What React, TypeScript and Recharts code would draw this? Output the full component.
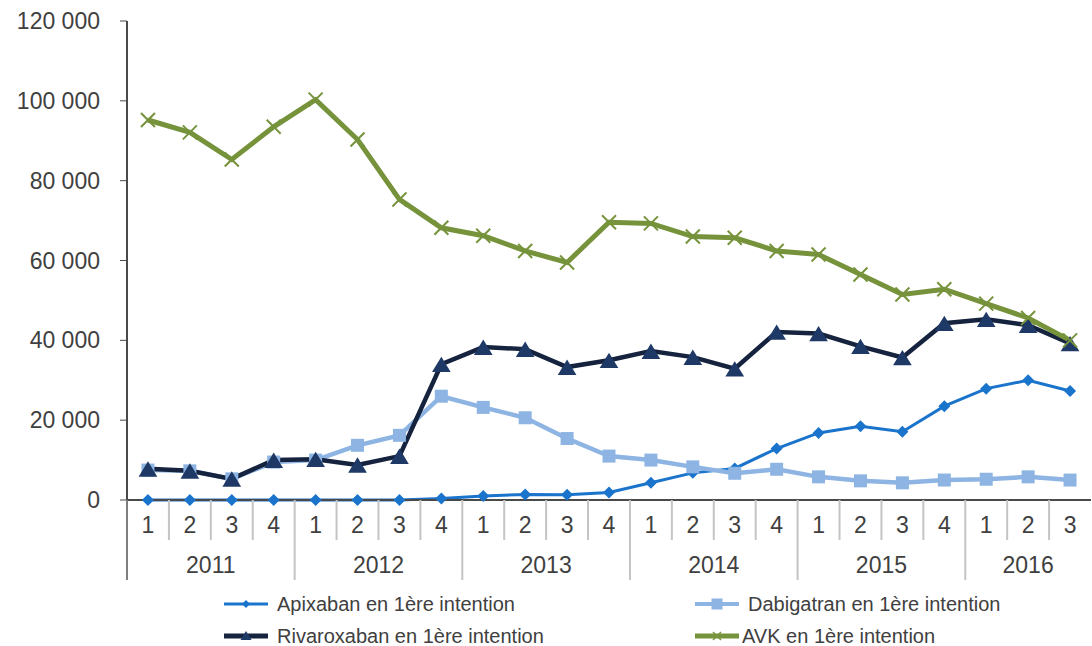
import React from 'react';
import { LineChart, Line, XAxis, YAxis, Legend } from 'recharts';

// ---------- data ----------
const periodYears = [
  '2011', '2011', '2011', '2011',
  '2012', '2012', '2012', '2012',
  '2013', '2013', '2013', '2013',
  '2014', '2014', '2014', '2014',
  '2015', '2015', '2015', '2015',
  '2016', '2016', '2016',
];
const periodQuarters = [
  '1', '2', '3', '4',
  '1', '2', '3', '4',
  '1', '2', '3', '4',
  '1', '2', '3', '4',
  '1', '2', '3', '4',
  '1', '2', '3',
];
const apixaban = [
  0, 0, 0, 0,
  0, 0, 0, 400,
  1000, 1400, 1300, 1900,
  4300, 6800, 7900, 12900,
  16800, 18500, 17100, 23500,
  27900, 30000, 27300,
];
const dabigatran = [
  7500, 7300, 5300, 9500,
  10000, 13700, 16200, 26000,
  23200, 20600, 15400, 11000,
  10000, 8300, 6700, 7700,
  5800, 4800, 4300, 5000,
  5200, 5800, 5000,
];
const rivaroxaban = [
  7800, 7300, 5300, 10000,
  10200, 8800, 11000, 34000,
  38300, 37800, 33300, 35000,
  37300, 35800, 32900, 42100,
  41700, 38500, 35700, 44300,
  45300, 43800, 39200,
];
const avk = [
  95200, 92100, 85300, 93500,
  100300, 90300, 75300, 68200,
  66200, 62400, 59500, 69600,
  69300, 66000, 65700, 62400,
  61500, 56500, 51500, 52800,
  49200, 45600, 40000,
];
const yTicks = [0, 20000, 40000, 60000, 80000, 100000, 120000];

const seriesNames = {
  apixaban: 'Apixaban en 1ère intention',
  dabigatran: 'Dabigatran en 1ère intention',
  rivaroxaban: 'Rivaroxaban en 1ère intention',
  avk: 'AVK en 1ère intention',
};

// ---------- styling ----------
const FONT = '"Liberation Sans", Arial, sans-serif';
const TEXT = '#404040';
const C_API = '#1b74cc';
const C_DAB = '#8db4e3';
const C_RIV_LINE = '#15233f';
const C_RIV_MARK = '#1f3966';
const C_AVK = '#76933c';

const W = 1092;
const H = 646;
const LEFT = 127;
const RIGHT = 1;
const N = periodQuarters.length;
const BW = (W - LEFT - RIGHT) / N;

const data = periodQuarters.map((q, i) => ({
  key: `${periodYears[i]}-${q}`,
  apixaban: apixaban[i],
  dabigatran: dabigatran[i],
  rivaroxaban: rivaroxaban[i],
  avk: avk[i],
}));

const fmt = (v: number) => String(v).replace(/\B(?=(\d{3})+(?!\d))/g, ' ');

// ---------- markers ----------
const diamondPath = (cx: number, cy: number, r: number) =>
  `M${cx},${cy - r}L${cx + r},${cy}L${cx},${cy + r}L${cx - r},${cy}Z`;
const squarePath = (cx: number, cy: number, r: number) =>
  `M${cx - r},${cy - r}H${cx + r}V${cy + r}H${cx - r}Z`;
const trianglePath = (cx: number, cy: number, r: number) =>
  `M${cx},${cy - r}L${cx + r * 1.1},${cy + r * 0.8}L${cx - r * 1.1},${cy + r * 0.8}Z`;

const DiamondDot = (p: any) => {
  const { cx, cy, index } = p;
  if (cx == null || cy == null) return <g key={`da-${index}`} />;
  return <path key={`da-${index}`} d={diamondPath(cx, cy, 6)} fill={C_API} />;
};
const SquareDot = (p: any) => {
  const { cx, cy, index } = p;
  if (cx == null || cy == null) return <g key={`sq-${index}`} />;
  return <path key={`sq-${index}`} d={squarePath(cx, cy, 6.5)} fill={C_DAB} />;
};
const TriangleDot = (p: any) => {
  const { cx, cy, index } = p;
  if (cx == null || cy == null) return <g key={`tr-${index}`} />;
  return <path key={`tr-${index}`} d={trianglePath(cx, cy + 1, 8.5)} fill={C_RIV_MARK} />;
};
const CrossDot = (p: any) => {
  const { cx, cy, index } = p;
  if (cx == null || cy == null) return <g key={`cr-${index}`} />;
  const r = 7;
  return (
    <g key={`cr-${index}`} stroke={C_AVK} strokeWidth={2}>
      <line x1={cx - r} y1={cy - r} x2={cx + r} y2={cy + r} />
      <line x1={cx - r} y1={cy + r} x2={cx + r} y2={cy - r} />
    </g>
  );
};

// ---------- x axis tick (quarters + years + separators) ----------
const PeriodTick = (props: any) => {
  const { x, y, payload } = props;
  const i: number = payload?.index ?? props.index ?? 0;
  const year = periodYears[i];
  const isYearStart = i === 0 || periodYears[i - 1] !== year;
  let start = i;
  while (start > 0 && periodYears[start - 1] === year) start--;
  let n = 0;
  while (start + n < N && periodYears[start + n] === year) n++;
  const mid = (n - 1) / 2;
  const showYear = i - start === Math.floor(mid);
  const yearShift = (mid - Math.floor(mid)) * BW;
  const left = x - BW / 2;
  return (
    <g>
      <line
        x1={left}
        x2={left}
        y1={y}
        y2={y + (isYearStart ? 80 : 40)}
        stroke={isYearStart && i === 0 ? '#7f7f7f' : '#c4c4c4'}
        strokeWidth={2}
      />
      <text
        x={x}
        y={y + 25}
        textAnchor="middle"
        dominantBaseline="central"
        fontFamily={FONT}
        fontSize={23}
        fill={TEXT}
      >
        {periodQuarters[i]}
      </text>
      {showYear && (
        <text
          x={x + yearShift}
          y={y + 65}
          textAnchor="middle"
          dominantBaseline="central"
          fontFamily={FONT}
          fontSize={23}
          fill={TEXT}
        >
          {year}
        </text>
      )}
    </g>
  );
};

// ---------- legend ----------
const legendItems = [
  { name: seriesNames.apixaban, color: C_API, marker: 'diamond', left: 224, top: 14, width: 3 },
  { name: seriesNames.dabigatran, color: C_DAB, marker: 'square', left: 695, top: 14, width: 4 },
  { name: seriesNames.rivaroxaban, color: C_RIV_LINE, marker: 'triangle', left: 224, top: 46, width: 5 },
  { name: seriesNames.avk, color: C_AVK, marker: 'cross', left: 695, top: 46, width: 5 },
];

const LegendContent = () => (
  <div style={{ position: 'relative', width: W, height: 56 }}>
    {legendItems.map((it) => {
      const cx = 22;
      const cy = 10;
      let mark: React.ReactNode = null;
      if (it.marker === 'diamond') mark = <path d={diamondPath(cx, cy, 4)} fill={C_API} />;
      if (it.marker === 'square') mark = <path d={squarePath(cx, cy, 5.5)} fill={C_DAB} />;
      if (it.marker === 'triangle') mark = <path d={trianglePath(cx, cy, 5)} fill={C_RIV_MARK} />;
      if (it.marker === 'cross')
        mark = (
          <g stroke={C_AVK} strokeWidth={1.5}>
            <line x1={cx - 4} y1={cy - 4} x2={cx + 4} y2={cy + 4} />
            <line x1={cx - 4} y1={cy + 4} x2={cx + 4} y2={cy - 4} />
          </g>
        );
      return (
        <div
          key={it.name}
          style={{
            position: 'absolute',
            left: it.left,
            top: it.top - 10,
            height: 20,
            display: 'flex',
            alignItems: 'center',
            whiteSpace: 'nowrap',
          }}
        >
          <svg width={46} height={20} style={{ display: 'block' }}>
            <line x1={0} x2={44} y1={cy} y2={cy} stroke={it.color} strokeWidth={it.width} />
            {mark}
          </svg>
          <span
            style={{
              marginLeft: it.marker === 'cross' ? 1 : 7,
              fontFamily: FONT,
              fontSize: 20,
              color: TEXT,
              lineHeight: '20px',
            }}
          >
            {it.name}
          </span>
        </div>
      );
    })}
  </div>
);

export default function App() {
  return (
    <div style={{ position: 'absolute', left: 0, top: 0, width: W, height: H, background: '#fff' }}>
      <LineChart
        width={W}
        height={H}
        data={data}
        margin={{ top: 21, right: RIGHT, bottom: 0, left: 0 }}
      >
        <XAxis
          dataKey="key"
          scale="band"
          interval={0}
          height={90}
          tickLine={false}
          tickSize={0}
          tickMargin={0}
          axisLine={{ stroke: '#4a4a4a', strokeWidth: 2 }}
          tick={<PeriodTick />}
        />
        <XAxis
          xAxisId="top"
          dataKey="key"
          orientation="top"
          scale="band"
          height={0}
          tick={false}
          tickLine={false}
          axisLine={{ stroke: '#a8a8a8', strokeWidth: 2 }}
        />
        <YAxis
          domain={[0, 120000]}
          ticks={yTicks}
          interval={0}
          width={LEFT}
          tickSize={7}
          tickMargin={20}
          tickFormatter={fmt}
          axisLine={{ stroke: '#4a4a4a', strokeWidth: 2 }}
          tickLine={{ stroke: '#4a4a4a', strokeWidth: 1 }}
          tick={{ fontFamily: FONT, fontSize: 23, fill: TEXT }}
        />
        <YAxis
          yAxisId="right"
          orientation="right"
          domain={[0, 120000]}
          width={0}
          tick={false}
          tickLine={false}
          axisLine={{ stroke: '#a8a8a8', strokeWidth: 2 }}
        />
        <Legend verticalAlign="bottom" content={<LegendContent />} />
        <Line
          dataKey="apixaban"
          name={seriesNames.apixaban}
          stroke={C_API}
          strokeWidth={3}
          dot={DiamondDot}
          activeDot={false}
          isAnimationActive={false}
        />
        <Line
          dataKey="dabigatran"
          name={seriesNames.dabigatran}
          stroke={C_DAB}
          strokeWidth={4.5}
          dot={SquareDot}
          activeDot={false}
          isAnimationActive={false}
        />
        <Line
          dataKey="rivaroxaban"
          name={seriesNames.rivaroxaban}
          stroke={C_RIV_LINE}
          strokeWidth={4.5}
          dot={TriangleDot}
          activeDot={false}
          isAnimationActive={false}
        />
        <Line
          dataKey="avk"
          name={seriesNames.avk}
          stroke={C_AVK}
          strokeWidth={5}
          dot={CrossDot}
          activeDot={false}
          isAnimationActive={false}
        />
      </LineChart>
    </div>
  );
}
